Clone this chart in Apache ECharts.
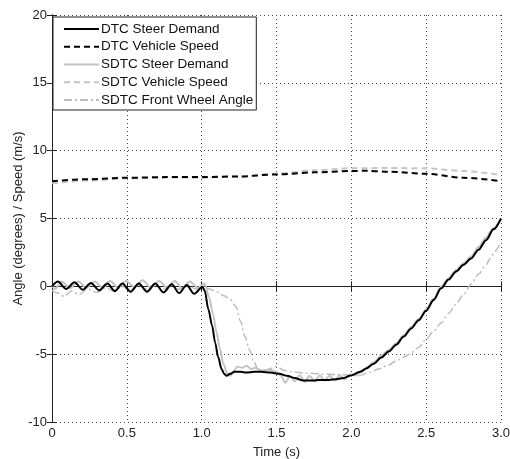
<!DOCTYPE html>
<html><head><meta charset="utf-8">
<script src="https://cdn.jsdelivr.net/npm/echarts@6/dist/echarts.min.js"></script>
<style>html,body{margin:0;padding:0;background:#fff}#c{width:510px;height:459px}</style>
</head><body><div id="c"></div>
<script>
const seriesNames = ['DTC Steer Demand','DTC Vehicle Speed','SDTC Steer Demand','SDTC Vehicle Speed','SDTC Front Wheel Angle'];
const xTicks = [0,0.5,1.0,1.5,2.0,2.5,3.0];
const yTicks = [-10,-5,0,5,10,15,20];

// [time (s), value]
const dtcSteer = [[0,0.0],[0.04,0.35],[0.095,-0.2],[0.15,0.3],[0.205,-0.25],[0.26,0.25],[0.315,-0.3],[0.37,0.2],[0.42,-0.35],[0.47,0.2],[0.525,-0.4],[0.58,0.2],[0.635,-0.4],[0.69,0.2],[0.745,-0.45],[0.80,0.15],[0.85,-0.5],[0.90,0.1],[0.95,-0.55],[1.005,-0.05],[1.02,-0.3],[1.045,-1.7],[1.07,-2.9],[1.09,-4.15],[1.11,-5.2],[1.133,-6.1],[1.15,-6.45],[1.167,-6.6],[1.19,-6.45],[1.22,-6.3],[1.26,-6.3],[1.3,-6.35],[1.35,-6.3],[1.4,-6.3],[1.46,-6.35],[1.52,-6.45],[1.57,-6.6],[1.62,-6.75],[1.68,-6.95],[1.74,-6.95],[1.79,-6.9],[1.85,-6.9],[1.9,-6.85],[1.95,-6.75],[1.99,-6.6],[2.06,-6.3],[2.1,-6.05],[2.15,-5.7],[2.2,-5.25],[2.25,-4.8],[2.3,-4.3],[2.35,-3.7],[2.4,-3.1],[2.45,-2.5],[2.5,-1.8],[2.55,-1.0],[2.6,-0.15],[2.65,0.5],[2.7,1.1],[2.75,1.6],[2.8,2.05],[2.85,2.7],[2.9,3.4],[2.95,4.2],[3.0,5.0]];

const dtcSpeed = [[0,7.75],[0.25,7.9],[0.5,8.0],[0.75,8.05],[1.0,8.05],[1.25,8.1],[1.5,8.25],[1.75,8.4],[2.0,8.5],[2.1,8.52],[2.25,8.45],[2.5,8.3],[2.75,8.0],[3.0,7.75]];

const sdtcSteer = [[0,0.1],[0.02,-0.2],[0.065,0.35],[0.12,-0.15],[0.175,0.35],[0.23,-0.1],[0.285,0.35],[0.34,-0.1],[0.39,0.4],[0.44,-0.1],[0.495,0.4],[0.55,-0.05],[0.605,0.45],[0.66,-0.1],[0.715,0.4],[0.77,-0.1],[0.82,0.4],[0.87,-0.15],[0.92,0.35],[0.975,-0.1],[1.02,0.2],[1.05,-0.8],[1.075,-2.0],[1.10,-3.4],[1.12,-4.5],[1.145,-5.7],[1.17,-6.4],[1.19,-6.6],[1.21,-6.3],[1.24,-5.9],[1.27,-6.0],[1.30,-5.85],[1.33,-6.1],[1.36,-6.0],[1.40,-6.2],[1.45,-6.15],[1.50,-6.3],[1.53,-6.6],[1.56,-7.1],[1.59,-6.6],[1.62,-7.0],[1.655,-6.55],[1.69,-7.05],[1.72,-6.6],[1.755,-7.0],[1.79,-6.55],[1.82,-6.95],[1.855,-6.6],[1.89,-6.95],[1.92,-6.55],[1.955,-6.85],[1.99,-6.5],[2.03,-6.55],[2.07,-6.25],[2.1,-6.0],[2.15,-5.6],[2.2,-5.1],[2.25,-4.7],[2.3,-4.2],[2.35,-3.6],[2.4,-3.0],[2.45,-2.4],[2.5,-1.7],[2.55,-0.9],[2.6,0.0],[2.65,0.6],[2.7,1.2],[2.75,1.7],[2.8,2.2],[2.85,2.9],[2.9,3.6],[2.95,4.3],[3.0,5.0]];

const sdtcSpeed = [[0,7.6],[0.25,7.8],[0.5,7.95],[0.75,8.0],[1.0,8.0],[1.25,8.1],[1.5,8.3],[1.75,8.55],[2.0,8.7],[2.25,8.72],[2.5,8.7],[2.75,8.5],[3.0,8.2]];

const sdtcWheel = [[0,-0.3],[0.04,-0.5],[0.08,-0.75],[0.13,-0.35],[0.18,-0.6],[0.24,-0.2],[0.3,-0.45],[0.36,-0.1],[0.41,-0.35],[0.47,0.0],[0.52,-0.3],[0.58,0.1],[0.63,-0.2],[0.69,0.15],[0.74,-0.2],[0.8,0.1],[0.85,-0.2],[0.91,0.1],[0.96,-0.2],[1.01,0.0],[1.05,-0.2],[1.1,-0.4],[1.15,-0.7],[1.19,-0.95],[1.23,-1.5],[1.26,-2.6],[1.29,-3.7],[1.32,-4.7],[1.35,-5.6],[1.38,-6.2],[1.41,-6.35],[1.45,-6.1],[1.5,-5.9],[1.55,-6.2],[1.6,-6.3],[1.7,-6.4],[1.8,-6.45],[1.9,-6.5],[2.0,-6.55],[2.05,-6.6],[2.12,-6.35],[2.18,-6.1],[2.24,-5.85],[2.3,-5.5],[2.35,-5.2],[2.39,-5.0],[2.45,-4.5],[2.5,-3.9],[2.55,-3.3],[2.6,-2.7],[2.65,-2.0],[2.7,-1.3],[2.75,-0.6],[2.8,0.15],[2.85,0.9],[2.9,1.6],[2.93,2.07],[2.96,2.6],[3.0,3.3]];

const FONT = 'Liberation Sans, Arial, sans-serif';
const chart = echarts.init(document.getElementById('c'), null, {renderer:'canvas'});
const axisLine = {show:true, lineStyle:{color:'#222', width:1}};
const tick = {show:true, inside:true, length:5, lineStyle:{color:'#222'}};
const split = {show:true, lineStyle:{color:'#444', type:[1,3], width:1}};
const fmtX = v => v === 0 ? '0' : v.toFixed(1);

function line(name, data, color, width, type, z, smooth) {
  return {name, type:'line', data, symbol:'none', showSymbol:false, z:z||2,
    smooth: smooth || false, smoothMonotone: smooth ? 'x' : undefined,
    lineStyle:{color, width, type}, itemStyle:{color}, animation:false};
}

chart.setOption({
  backgroundColor:'#fff',
  animation:false,
  grid:{left:52, right:9, top:15, bottom:37, containLabel:false, outerBoundsMode:'none'},
  xAxis:[
    {type:'value', min:0, max:3, interval:0.5, axisLine, axisTick:tick, splitLine:split,
     axisLabel:{formatter:fmtX, color:'#222', fontSize:13, fontFamily:FONT, margin:5},
     name:'Time (s)', nameLocation:'middle', nameGap:24, nameMoveOverlap:false,
     nameTextStyle:{color:'#222', fontSize:13, fontFamily:FONT}},
    {type:'value', position:'top', min:0, max:3, interval:0.5, axisLine, axisTick:tick, splitLine:{show:false}, axisLabel:{show:false}}
  ],
  yAxis:[
    {type:'value', min:-10, max:20, interval:5, axisLine, axisTick:tick, splitLine:split,
     axisLabel:{color:'#222', fontSize:13, fontFamily:FONT, margin:5},
     name:'Angle (degrees) / Speed (m/s)', nameLocation:'middle', nameGap:27, nameRotate:90, nameMoveOverlap:false,
     nameTextStyle:{color:'#222', fontSize:13, fontFamily:FONT}},
    {type:'value', position:'right', min:-10, max:20, interval:5, axisLine, axisTick:tick, splitLine:{show:false}, axisLabel:{show:false}}
  ],
  legend:{
    data: seriesNames,
    orient:'vertical', left:53, top:17, itemWidth:35, itemHeight:14, itemGap:3.75,
    padding:[5,3,3,10], backgroundColor:'#fff', borderColor:'#222', borderWidth:1,
    textStyle:{color:'#111', fontSize:13.5, fontFamily:FONT, padding:[0,0,0,-3]},
    itemStyle:{opacity:0},
    selectedMode:false
  },
  series:[
    line(seriesNames[0], dtcSteer, '#000', 2, 'solid', 5, 0.3),
    line(seriesNames[1], dtcSpeed, '#000', 2, [6,4], 5, 0.3),
    line(seriesNames[2], sdtcSteer, '#c3c3c3', 2, 'solid', 4, 0.3),
    line(seriesNames[3], sdtcSpeed, '#c6c6c6', 2, [6,4], 3, 0.3),
    line(seriesNames[4], sdtcWheel, '#bdbdbd', 1.5, [8,3,2,3], 3, 0.3)
  ]
});
</script></body></html>
